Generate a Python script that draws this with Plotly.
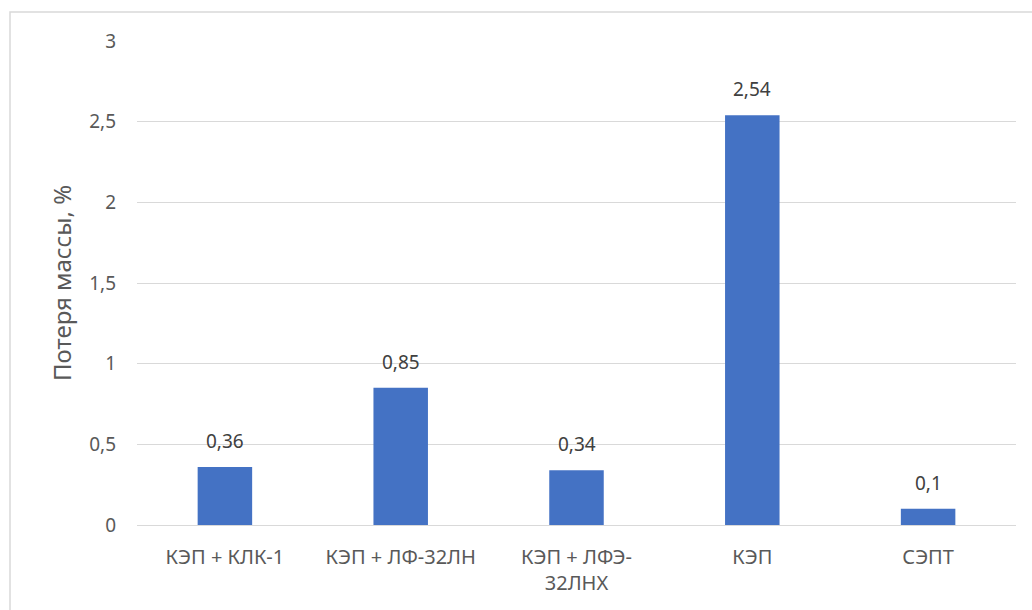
import plotly.graph_objects as go

# Данные: потеря массы образцов, %
categories = ["КЭП + КЛК-1", "КЭП + ЛФ-32ЛН", "КЭП + ЛФЭ-<br>32ЛНХ", "КЭП", "СЭПТ"]
mass_loss = [0.36, 0.85, 0.34, 2.54, 0.1]
y_ticks = [0, 0.5, 1, 1.5, 2, 2.5, 3]

FONT = "Noto Sans"
W, H = 1032, 610
L, R, T, B = 137, 16, 41, 85
pw, ph = W - L - R, H - T - B

fig = go.Figure(
    go.Bar(
        x=categories,
        y=mass_loss,
        width=0.31,
        marker=dict(color="#4472C4", line=dict(width=0)),
        hoverinfo="skip",
    )
)

# Подписи значений над столбцами (десятичная запятая)
for c, v in zip(categories, mass_loss):
    fig.add_annotation(
        x=c, y=v, text=f"{v:g}".replace(".", ","),
        showarrow=False, yanchor="bottom", yshift=11,
        font=dict(family=FONT, size=19, color="#404040"),
    )

# Рамка области диаграммы
fig.add_shape(
    type="rect", xref="paper", yref="paper",
    x0=(10 - L) / pw, x1=1.2, y0=-0.5, y1=1 + (T - 12) / ph,
    line=dict(color="#d9d9d9", width=1.5), fillcolor="rgba(0,0,0,0)", layer="below",
)

fig.update_layout(
    width=W, height=H,
    margin=dict(l=L, r=R, t=T, b=B, pad=0),
    paper_bgcolor="white", plot_bgcolor="white",
    separators=", ",
    showlegend=False,
    font=dict(family=FONT, size=19, color="#595959"),
    xaxis=dict(
        showgrid=False, showline=False, zeroline=False, ticks="",
        tickfont=dict(family=FONT, size=20, color="#595959"),
        ticklabelstandoff=18,
    ),
    yaxis=dict(
        range=[0, 3], tickvals=y_ticks,
        showgrid=True, gridcolor="#d9d9d9", gridwidth=1,
        zeroline=True, zerolinecolor="#d9d9d9", zerolinewidth=1,
        showline=False, ticks="",
        tickfont=dict(family=FONT, size=19, color="#595959"),
        ticklabelstandoff=20,
        title=dict(text="Потеря массы, %", standoff=10,
                   font=dict(family=FONT, size=24, color="#595959")),
    ),
)

fig.write_html("out.html")
